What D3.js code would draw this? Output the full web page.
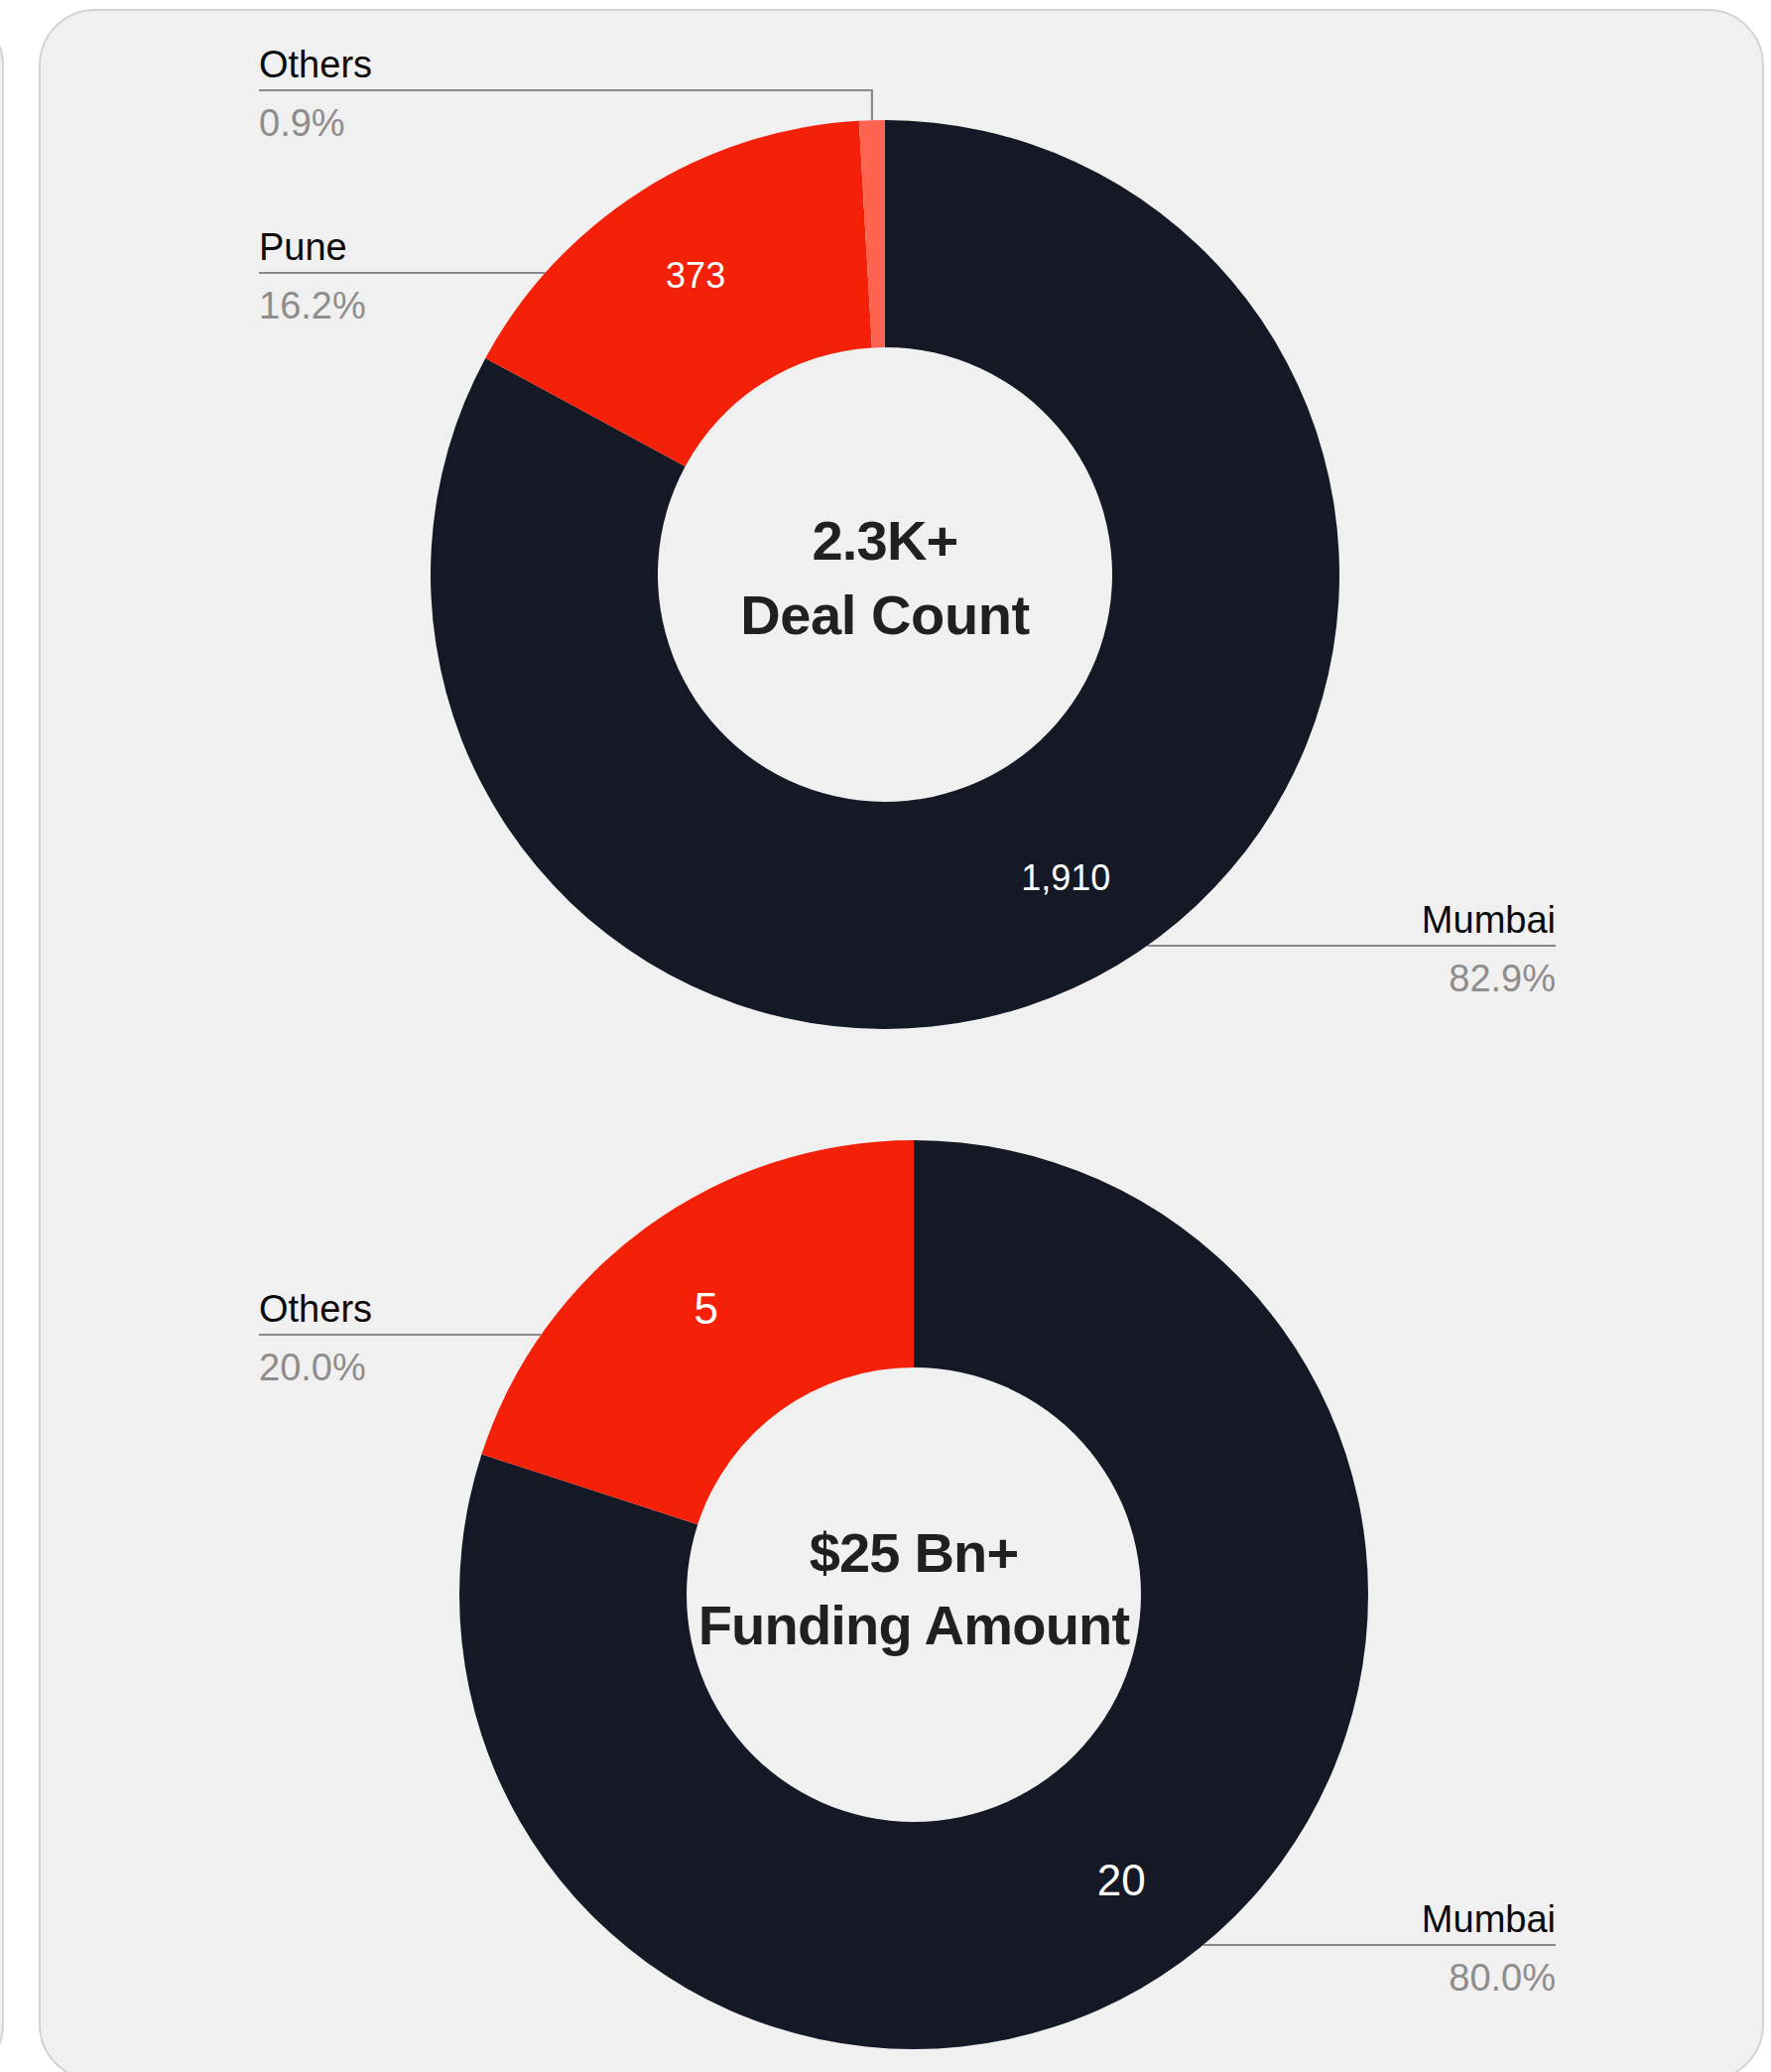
<!DOCTYPE html>
<html>
<head>
<meta charset="utf-8">
<script src="https://cdn.jsdelivr.net/npm/d3@7/dist/d3.min.js"></script>
<style>
  html, body { margin: 0; padding: 0; background: #ffffff; }
  svg { display: block; }
  text { font-family: "Liberation Sans", Arial, Helvetica, sans-serif; }
</style>
</head>
<body>
<svg id="chart" width="1785" height="2088"></svg>
<script>
// ---------------- data ----------------
const dealCategories = ["Mumbai", "Pune", "Others"];
const dealValues = [1910, 373, 21];
const dealCenterTitle = ["2.3K+", "Deal Count"];

const fundingCategories = ["Mumbai", "Others"];
const fundingValues = [20, 5];
const fundingCenterTitle = ["$25 Bn+", "Funding Amount"];

// ---------------- styles / layout ----------------
const colorDark = "#151925";
const colorRed = "#F42108";
const colorCoral = "#FF6450";

const svg = d3.select("#chart");

// neighbour card (right edge visible at the left)
svg.append("rect")
  .attr("x", -300).attr("y", 10).attr("width", 303).attr("height", 2086)
  .attr("rx", 56).attr("ry", 56)
  .attr("fill", "#EFF0EF").attr("stroke", "#D2D4D4").attr("stroke-width", 2);

// main card
svg.append("rect")
  .attr("x", 40).attr("y", 10).attr("width", 1737).attr("height", 2086)
  .attr("rx", 56).attr("ry", 56)
  .attr("fill", "#EFF0EF").attr("stroke", "#D2D4D4").attr("stroke-width", 2);

const charts = [
  {
    categories: dealCategories,
    values: dealValues,
    colors: [colorDark, colorRed, colorCoral],
    title: dealCenterTitle,
    cx: 892, cy: 579,
    valueFont: 36,
    titleBaselines: [-15, 60],
    titleSpacing: [-0.8, -0.4],
    callouts: [
      { lineY: 953, side: "right", x: 1568 },
      { lineY: 275, side: "left", x: 261 },
      { lineY: 91, side: "left", x: 261 }
    ]
  },
  {
    categories: fundingCategories,
    values: fundingValues,
    colors: [colorDark, colorRed],
    title: fundingCenterTitle,
    cx: 921, cy: 1607,
    valueFont: 44,
    titleBaselines: [-23, 50],
    titleSpacing: [-0.8, -0.8],
    callouts: [
      { lineY: 1960, side: "right", x: 1568 },
      { lineY: 1345, side: "left", x: 261 }
    ]
  }
];

const outerR = 458, innerR = 229, labelR = 356;
const pctFmt = d3.format(".1%");
const numFmt = d3.format(",");

charts.forEach(cfg => {
  const total = d3.sum(cfg.values);
  const pie = d3.pie().sort(null).value(d => d.value).startAngle(0).endAngle(2 * Math.PI);
  const data = cfg.categories.map((c, i) => ({ category: c, value: cfg.values[i], idx: i }));
  const arcs = pie(data);
  const arc = d3.arc().innerRadius(innerR).outerRadius(outerR);
  const labelArc = d3.arc().innerRadius(labelR).outerRadius(labelR);

  // callout lines (drawn under the donut)
  const lineG = svg.append("g");
  const textG = svg.append("g");
  arcs.forEach((a, i) => {
    const co = cfg.callouts[i];
    const mid = (a.startAngle + a.endAngle) / 2;
    const dy = co.lineY - cfg.cy;
    let pts;
    if (Math.abs(dy) >= outerR) {
      const ex = cfg.cx + outerR * Math.sin(mid);
      const ey = cfg.cy - outerR * Math.cos(mid);
      pts = [[co.x, co.lineY], [ex, co.lineY], [ex, ey]];
    } else {
      const dx = Math.sqrt(outerR * outerR - dy * dy);
      const ex = co.side === "left" ? cfg.cx - dx : cfg.cx + dx;
      pts = [[co.x, co.lineY], [ex, co.lineY]];
    }
    lineG.append("path")
      .attr("d", d3.line()(pts))
      .attr("fill", "none")
      .attr("stroke", "#8A8A8A")
      .attr("stroke-width", 2.2);

    const anchor = co.side === "left" ? "start" : "end";
    textG.append("text")
      .attr("x", co.x).attr("y", co.lineY - 13)
      .attr("text-anchor", anchor)
      .attr("font-size", 38)
      .attr("fill", "#0A0A0A")
      .text(a.data.category);
    textG.append("text")
      .attr("x", co.x).attr("y", co.lineY + 46)
      .attr("text-anchor", anchor)
      .attr("font-size", 38)
      .attr("fill", "#8F8C8C")
      .text(pctFmt(a.data.value / total));
  });

  const g = svg.append("g").attr("transform", `translate(${cfg.cx},${cfg.cy})`);
  g.selectAll("path.slice")
    .data(arcs)
    .join("path")
    .attr("class", "slice")
    .attr("d", arc)
    .attr("fill", d => cfg.colors[d.data.idx]);

  g.selectAll("text.val")
    .data(arcs.filter(d => (d.endAngle - d.startAngle) > 0.15))
    .join("text")
    .attr("class", "val")
    .attr("transform", d => `translate(${labelArc.centroid(d)})`)
    .attr("text-anchor", "middle")
    .attr("dy", "0.33em")
    .attr("font-size", cfg.valueFont)
    .attr("fill", "#FFFFFF")
    .text(d => numFmt(d.data.value));

  cfg.title.forEach((t, i) => {
    g.append("text")
      .attr("x", 0).attr("y", cfg.titleBaselines[i])
      .attr("text-anchor", "middle")
      .attr("font-size", 56)
      .attr("font-weight", "bold")
      .attr("letter-spacing", cfg.titleSpacing[i])
      .attr("fill", "#221F20")
      .text(t);
  });
});
</script>
</body>
</html>
